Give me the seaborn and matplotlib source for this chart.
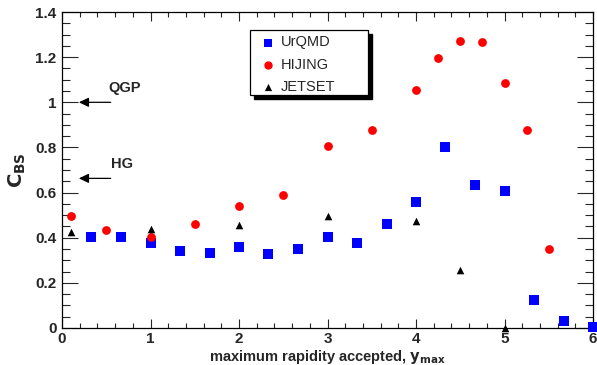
import numpy as np
import pandas as pd
import matplotlib
matplotlib.use("Agg")
import matplotlib.pyplot as plt
import seaborn as sns
from matplotlib.ticker import MultipleLocator
from matplotlib.patches import Rectangle

# Data
urqmd_x = [0.33, 0.67, 1.0, 1.33, 1.67, 2.0, 2.33, 2.67, 3.0, 3.33, 3.67, 4.0, 4.33, 4.67, 5.0, 5.33, 5.67, 6.0]
urqmd_y = [0.405, 0.402, 0.375, 0.343, 0.331, 0.360, 0.328, 0.349, 0.403, 0.378, 0.462, 0.558, 0.803, 0.634, 0.608, 0.125, 0.032, 0.004]
hijing_x = [0.1, 0.5, 1.0, 1.5, 2.0, 2.5, 3.0, 3.5, 4.0, 4.25, 4.5, 4.75, 5.0, 5.25, 5.5]
hijing_y = [0.498, 0.436, 0.405, 0.462, 0.541, 0.591, 0.806, 0.876, 1.054, 1.198, 1.272, 1.269, 1.087, 0.876, 0.352]
jetset_x = [0.1, 1.0, 2.0, 3.0, 4.0, 4.5, 5.0]
jetset_y = [0.424, 0.437, 0.456, 0.498, 0.473, 0.257, 0.0]

series_names = ["UrQMD", "HIJING", "JETSET"]
x_ticks = [0, 1, 2, 3, 4, 5, 6]
y_ticks = [0, 0.2, 0.4, 0.6, 0.8, 1.0, 1.2, 1.4]
y_ticklabels = ["0", "0.2", "0.4", "0.6", "0.8", "1", "1.2", "1.4"]

df = pd.concat([
    pd.DataFrame({"x": urqmd_x, "y": urqmd_y, "model": series_names[0]}),
    pd.DataFrame({"x": hijing_x, "y": hijing_y, "model": series_names[1]}),
    pd.DataFrame({"x": jetset_x, "y": jetset_y, "model": series_names[2]}),
], ignore_index=True)

sns.set_style("ticks")
plt.rcParams["font.family"] = ["Liberation Sans", "DejaVu Sans"]

fig = plt.figure(figsize=(5.97, 3.65), dpi=100)
ax = fig.add_axes([0.1039, 0.1014, 0.8894, 0.8656])

palette = {"UrQMD": "#0000ff", "HIJING": "#ff0000", "JETSET": "#000000"}
markers = {"UrQMD": "s", "HIJING": "o", "JETSET": "^"}
sizes = {"UrQMD": 42, "HIJING": 40, "JETSET": 30}
for name in series_names:
    sub = df[df["model"] == name]
    sns.scatterplot(data=sub, x="x", y="y", color=palette[name], marker=markers[name],
                    s=sizes[name], linewidth=0, ax=ax, label=name, clip_on=False, zorder=3)

ax.set_xlim(0, 6)
ax.set_ylim(0, 1.4)
ax.set_xticks(x_ticks)
ax.set_xticklabels([str(t) for t in x_ticks])
ax.set_yticks(y_ticks)
ax.set_yticklabels(y_ticklabels)
ax.xaxis.set_minor_locator(MultipleLocator(0.2))
ax.yaxis.set_minor_locator(MultipleLocator(0.05))
ax.tick_params(axis="x", which="major", direction="in", length=6.5, width=0.8, top=True, bottom=True, pad=3)
ax.tick_params(axis="x", which="minor", direction="in", length=3.3, width=0.8, top=True, bottom=True)
ax.tick_params(axis="y", which="major", direction="in", length=11.5, width=0.8, left=True, right=True, pad=4)
ax.tick_params(axis="y", which="minor", direction="in", length=5.8, width=0.8, left=True, right=True)
for lab in ax.get_xticklabels() + ax.get_yticklabels():
    lab.set_fontweight("bold")
    lab.set_fontsize(11)
for sp in ax.spines.values():
    sp.set_linewidth(0.9)
    sp.set_color("black")

ax.set_xlabel(r"maximum rapidity accepted, $\mathbf{y_{max}}$", fontsize=10.5, fontweight="bold", labelpad=1)
ax.set_ylabel(r"$\mathbf{C_{BS}}$", fontsize=14, fontweight="bold", labelpad=5)

# Annotations
arrow_style = "-|>,head_length=0.42,head_width=0.2"
ax.annotate("", xy=(0.19, 1.0), xytext=(0.55, 1.0),
            arrowprops=dict(arrowstyle=arrow_style, color="black", lw=0.9, mutation_scale=14, shrinkA=0, shrinkB=0))
ax.annotate("", xy=(0.19, 0.663), xytext=(0.55, 0.663),
            arrowprops=dict(arrowstyle=arrow_style, color="black", lw=0.9, mutation_scale=14, shrinkA=0, shrinkB=0))
ax.text(0.52, 1.065, "QGP", fontsize=10.5, fontweight="bold", ha="left", va="center")
ax.text(0.555, 0.725, "HG", fontsize=10.5, fontweight="bold", ha="left", va="center")

# Legend box (ROOT style with solid shadow)
bx0, by0, bw, bh = 0.354, 0.737, 0.222, 0.206
ax.add_patch(Rectangle((bx0 + 0.0075, by0 - 0.0127), bw, bh, transform=ax.transAxes,
                       facecolor="black", edgecolor="black", zorder=4, clip_on=False))
ax.add_patch(Rectangle((bx0, by0), bw, bh, transform=ax.transAxes,
                       facecolor="white", edgecolor="black", linewidth=0.9, zorder=5, clip_on=False))

handles, labels = ax.get_legend_handles_labels()
leg = ax.legend(handles, labels, loc="upper left", bbox_to_anchor=(bx0 + 0.012, by0 + bh - 0.008),
                frameon=False, fontsize=10.5, handletextpad=0.3, borderpad=0.2,
                labelspacing=0.56, handlelength=1.2, borderaxespad=0, markerscale=0.95)
leg.set_zorder(6)

fig.savefig("out.png", dpi=100)
